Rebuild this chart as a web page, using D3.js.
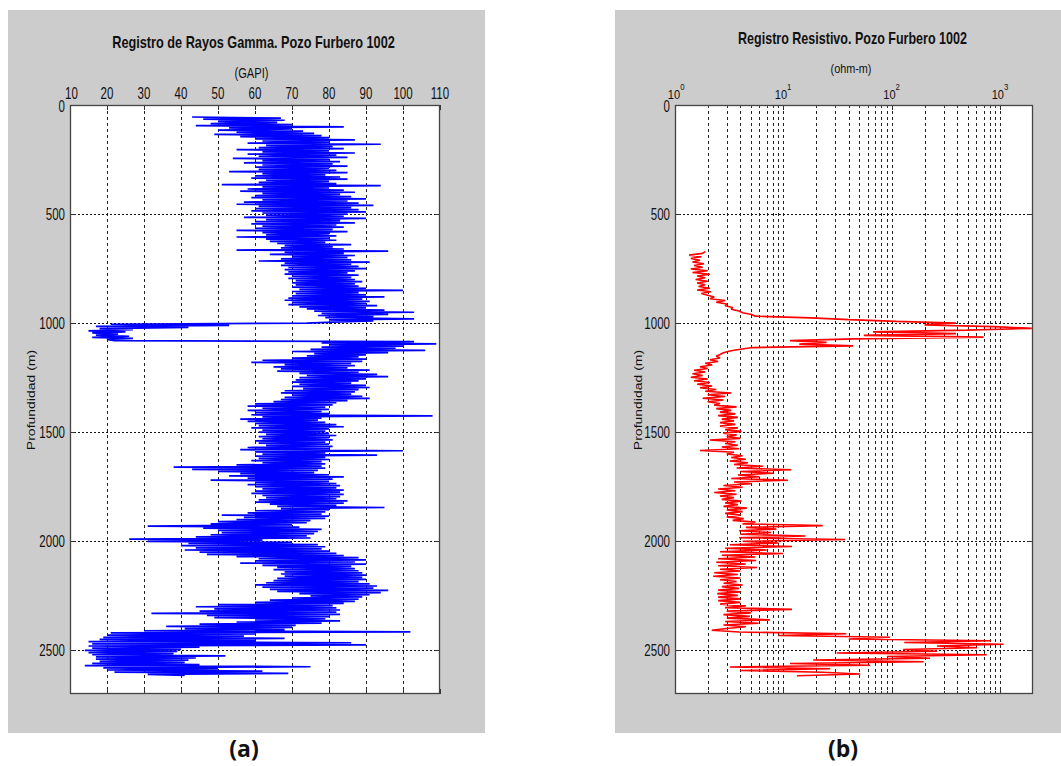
<!DOCTYPE html>
<html><head><meta charset="utf-8">
<script src="https://cdn.jsdelivr.net/npm/d3@7"></script>
<style>body{margin:0;background:#fff}svg{display:block}</style>
</head><body>
<svg id="c" width="1061" height="766"></svg>
<script>
// ---------------- DATA ----------------
// Gamma ray log (GAPI), sampled every 5 m starting at 55 m
const grDepthStart = 55, grDepthStep = 5;
const grValues = [
 43,67,46,68,50,66,48,70,44,84,53,70,50,73,55,76,49,78,56,80,
 60,87,62,80,58,94,63,81,61,84,55,80,62,87,58,82,61,85,54,80,
 62,83,57,81,62,85,60,80,61,82,53,85,62,79,60,83,59,85,63,80,
 61,82,51,94,62,80,58,84,56,87,62,83,60,86,59,90,62,85,57,88,
 55,92,61,86,60,88,59,90,62,85,63,84,57,90,63,83,60,87,59,82,
 62,84,60,81,55,85,62,80,63,82,55,80,63,82,64,79,66,86,68,81,
 67,84,55,96,68,84,64,87,70,85,67,86,61,91,68,86,67,88,69,90,
 68,87,69,85,68,88,70,86,69,87,71,89,70,87,71,88,70,90,72,100,
 70,88,71,90,70,95,69,89,68,91,70,90,69,93,72,90,74,95,76,103,
 78,96,77,92,79,103,80,92,81,74,21,53,17,42,18,27,15,25,16,23,
 17,26,16,27,20,22,103,78,109,80,100,78,98,75,106,70,96,76,90,74,
 88,70,90,62,89,59,86,68,87,65,85,67,91,66,88,72,93,74,96,72,
 90,71,88,70,86,72,90,70,91,73,88,68,87,67,86,70,89,68,91,67,
 85,65,82,60,81,58,79,62,80,58,78,60,80,59,108,62,78,56,77,58,
 79,60,82,61,84,59,80,62,79,61,80,63,82,61,80,62,81,60,79,61,
 80,63,81,58,80,56,100,60,79,62,93,60,79,61,80,59,78,62,79,55,
 78,38,79,43,77,50,76,56,80,53,84,58,81,48,80,60,82,58,83,60,
 82,62,84,60,83,59,84,62,83,63,82,61,85,60,84,64,82,66,95,67,
 80,60,79,58,78,51,80,57,79,55,75,50,74,48,70,31,72,46,78,50,
 77,51,76,48,74,44,75,26,62,31,70,42,77,40,79,44,78,41,80,45,
 82,47,84,55,88,61,90,60,87,56,90,62,86,66,87,65,88,68,89,67,
 90,68,89,66,90,65,88,63,91,60,93,62,92,64,96,66,94,72,91,75,
 89,70,88,64,87,60,84,50,81,44,82,49,83,45,82,32,83,47,80,49,
 79,60,83,55,78,45,71,36,70,41,68,30,102,21,60,20,57,19,68,18,
 60,15,86,16,90,15,45,16,40,14,39,15,38,16,52,17,44,17,42,18,
 41,16,45,14,75,19,50,20,62,22,69,31,41
];
// Resistivity log (ohm-m), sampled every 8 m starting at 672 m
const resDepthStart = 672, resDepthStep = 8;
const resValues = [
 1.9,1.8,1.35,1.75,1.4,1.7,1.45,1.85,1.5,1.8,1.4,2.0,1.45,2.1,1.6,1.9,1.55,2.0,1.6,1.9,1.65,2.1,1.6,2.15,1.75,
 2.0,2.3,2.1,2.9,2.4,3.0,2.9,3.4,3.3,3.9,4.2,5.1,5.5,18,40,110,390,200,870,1950,490,67,390,55,700,
 44,11.5,25,14,44,5.2,4.0,3.2,2.8,2.6,2.4,2.6,2.1,2.5,1.9,2.2,1.7,2.0,1.5,1.9,1.45,1.8,1.4,2.0,1.5,
 2.1,1.6,2.2,1.7,2.4,1.9,3.3,2.0,2.9,1.8,2.8,2.0,2.6,2.3,3.7,2.4,3.3,2.6,3.6,2.5,3.8,2.7,3.5,2.6,3.6,
 2.6,3.8,2.9,4.1,2.8,3.7,3.0,4.0,2.1,3.6,2.9,3.8,2.7,3.9,1.7,3.5,3.0,4.2,3.3,4.5,3.2,4.7,3.5,6.5,3.7,
 11.8,4.0,8.0,3.8,6.0,3.3,11,3.5,5.0,2.8,4.2,2.5,3.6,2.3,3.7,2.6,3.5,2.7,4.1,2.9,3.8,2.8,4.6,3.0,4.2,
 2.9,4.0,3.0,4.3,3.4,5.5,4.2,23,4.5,8.6,3.9,7.7,4.0,16,3.9,37,4.2,9.0,3.2,12,2.9,7.0,2.6,9.9,2.7,
 5.5,2.5,5.6,2.4,4.5,2.5,5.7,2.6,4.0,2.3,3.8,2.25,4.0,2.6,3.7,2.8,4.2,2.7,3.9,2.5,4.0,2.45,3.8,2.5,4.0,
 2.5,4.0,2.6,4.5,2.9,12,3.0,5.0,2.8,4.9,3.0,7.5,2.9,5.9,2.8,4.5,3.0,2.18,3.9,38,9.0,96,40,818,130,
 1070,260,611,127,260,31,750,90,225,18.8,196,11.5,63,3.2,27,4.0,23,51,13.3
];
const grTicks = [10,20,30,40,50,60,70,80,90,100,110];
const depthTicks = [0,500,1000,1500,2000,2500];
const resMajorTicks = [1,10,100,1000];
const resExponents = ["0","1","2","3"];
const resMinorTicks = [2,3,4,5,6,7,8,9,20,30,40,50,60,70,80,90,200,300,400,500,600,700,800,900];

// ---------------- DRAWING ----------------
const svg = d3.select('#c');
const FONT = '"Liberation Sans", Arial, Helvetica, sans-serif';
const SX = 0.72;

function label(parent, x, y, str, o) {
  const g = parent.append('g').attr('transform', `translate(${x},${y})` + (o.rotate ? ` rotate(${o.rotate})` : ''));
  const t = g.append('text').text(str)
    .attr('font-family', o.family || FONT).attr('font-size', o.size)
    .attr('font-weight', o.weight || 'normal')
    .attr('text-anchor', o.anchor || 'middle')
    .attr('fill', o.fill || '#111');
  if (o.width) {
    const len = t.node().getComputedTextLength();
    t.attr('transform', `scale(${o.width / len},1)`);
  } else if (o.rotate) {
    t.attr('transform', `scale(1,${o.sy || SX})`);
  } else if (o.sx !== 1) {
    t.attr('transform', `scale(${o.sx || SX},1)`);
  }
  return t;
}

// grey figure panels
svg.append('rect').attr('x', 8).attr('y', 10).attr('width', 477).attr('height', 723).attr('fill', '#cccccc');
svg.append('rect').attr('x', 615).attr('y', 10).attr('width', 446).attr('height', 723).attr('fill', '#cccccc');

const axTop = 105, axBottom = 694;
const xA = d3.scaleLinear().domain([10, 110]).range([70, 440]);
const xB = d3.scaleLog().domain([1, 2000]).range([675, 1033]);
const yD = d3.scaleLinear().domain([0, 2700]).range([axTop, axBottom]);

const grData = grValues.map((v, i) => ({ d: grDepthStart + i * grDepthStep, v }));
const resData = resValues.map((v, i) => ({ d: resDepthStart + i * resDepthStep, v }));

function drawAxes(x, opts) {
  const g = svg.append('g');
  const [x0, x1] = x.range();
  g.append('rect').attr('x', x0).attr('y', axTop).attr('width', x1 - x0).attr('height', axBottom - axTop).attr('fill', '#fff');
  // vertical grid lines
  opts.vgrid.forEach(t => {
    const px = Math.round(x(t)) + 0.5;
    g.append('line').attr('x1', px).attr('x2', px).attr('y1', axTop).attr('y2', axBottom)
      .attr('stroke', '#222').attr('stroke-width', 1).attr('stroke-dasharray', '3,3');
  });
  // horizontal grid lines
  depthTicks.filter(d => d > 0).forEach(d => {
    const py = Math.round(yD(d)) + 0.5;
    g.append('line').attr('x1', x0).attr('x2', x1).attr('y1', py).attr('y2', py)
      .attr('stroke', '#111').attr('stroke-width', 1).attr('stroke-dasharray', '2,2');
  });
  // clip
  const id = 'clip' + opts.id;
  svg.append('clipPath').attr('id', id).append('rect')
    .attr('x', x0).attr('y', axTop).attr('width', x1 - x0).attr('height', axBottom - axTop);
  const line = d3.line().x(p => x(p.v)).y(p => yD(p.d));
  svg.append('path').datum(opts.data).attr('clip-path', `url(#${id})`)
    .attr('d', line).attr('fill', 'none').attr('stroke', opts.color).attr('stroke-width', opts.lw)
    .attr('stroke-linejoin', 'bevel');
  const f = svg.append('g');
  // tick marks (inside), on all sides
  opts.majorTicks.forEach(t => {
    const px = Math.round(x(t)) + 0.5;
    f.append('line').attr('x1', px).attr('x2', px).attr('y1', axTop).attr('y2', axTop + 5).attr('stroke', '#333');
    f.append('line').attr('x1', px).attr('x2', px).attr('y1', axBottom).attr('y2', axBottom - 5).attr('stroke', '#333');
  });
  (opts.minorTicks || []).forEach(t => {
    const px = Math.round(x(t)) + 0.5;
    f.append('line').attr('x1', px).attr('x2', px).attr('y1', axTop).attr('y2', axTop + 3).attr('stroke', '#333');
    f.append('line').attr('x1', px).attr('x2', px).attr('y1', axBottom).attr('y2', axBottom - 3).attr('stroke', '#333');
  });
  depthTicks.forEach(d => {
    const py = Math.round(yD(d)) + 0.5;
    f.append('line').attr('x1', x0).attr('x2', x0 + 5).attr('y1', py).attr('y2', py).attr('stroke', '#333');
    f.append('line').attr('x1', x1).attr('x2', x1 - 5).attr('y1', py).attr('y2', py).attr('stroke', '#333');
  });
  // box
  f.append('rect').attr('x', x0 + 0.5).attr('y', axTop + 0.5).attr('width', x1 - x0 - 1).attr('height', axBottom - axTop - 1)
    .attr('fill', 'none').attr('stroke', '#444').attr('stroke-width', 1.3);
  // depth tick labels (the "0" sits just under the top tick labels, as in the original)
  depthTicks.forEach(d => {
    label(svg, x0 - 5, yD(d) + (d === 0 ? 7 : 6), String(d), { size: 16, anchor: 'end' });
  });
  // depth label
  label(svg, opts.ylabX, 400, 'Profundidad (m)', { size: 14, rotate: -90 });
}

// ---- Panel (a): gamma ray ----
drawAxes(xA, { id: 'A', vgrid: grTicks.slice(1, -1), majorTicks: grTicks, data: grData, color: '#0000ff', lw: 1.7, ylabX: 35 });
grTicks.forEach(t => label(svg, xA(t) + (t === 10 ? 1.5 : 0), 99, String(t), { size: 16 }));
label(svg, 253.5, 48, 'Registro de Rayos Gamma. Pozo Furbero 1002', { size: 16, weight: 'bold', width: 283 });
label(svg, 251.5, 78, '(GAPI)', { size: 14, width: 34 });

// ---- Panel (b): resistivity ----
drawAxes(xB, { id: 'B', vgrid: resMinorTicks.concat([10, 100, 1000]), majorTicks: resMajorTicks, minorTicks: resMinorTicks, data: resData, color: '#ff0000', lw: 1.6, ylabX: 642 });
resMajorTicks.forEach((t, i) => {
  const cx = xB(t) + (t === 1 ? 1.5 : 0);
  const g = svg.append('g').attr('transform', `translate(${cx - 2.5},99)`);
  g.append('text').text('10').attr('font-family', FONT).attr('font-size', 13.5).attr('text-anchor', 'middle')
    .attr('fill', '#111').attr('transform', 'scale(0.82,1)');
  g.append('text').text(resExponents[i]).attr('font-family', FONT).attr('font-size', 9.5)
    .attr('x', 7.5).attr('y', -9).attr('fill', '#111').attr('transform', 'scale(0.82,1)');
});
label(svg, 852.5, 44, 'Registro Resistivo. Pozo Furbero 1002', { size: 16, weight: 'bold', width: 229 });
label(svg, 851, 73, '(ohm-m)', { size: 13.5, width: 41 });

// ---- sub-figure captions ----
label(svg, 244, 757, '(a)', { size: 23, weight: 'bold', family: '"Open Sans", "Noto Sans", sans-serif', sx: 1 });
label(svg, 843, 757, '(b)', { size: 23, weight: 'bold', family: '"Open Sans", "Noto Sans", sans-serif', sx: 1 });
</script>
</body></html>
